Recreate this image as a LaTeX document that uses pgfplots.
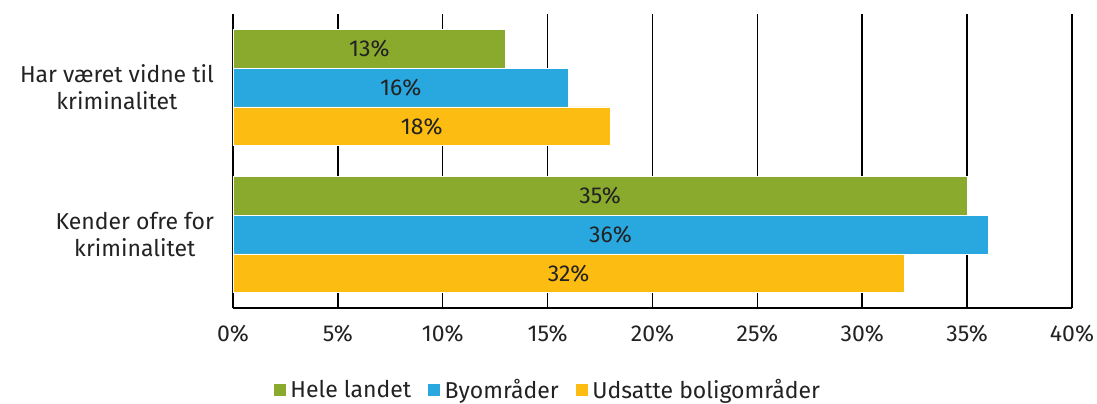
\documentclass[border=0pt]{standalone}
\usepackage{pgfplots}
\pgfplotsset{compat=1.18}
\usepackage{fontspec}
\setmainfont{Fira Sans}
\definecolor{cgreen}{HTML}{8AAA2E}
\definecolor{cblue}{HTML}{29A8E0}
\definecolor{corange}{HTML}{FDBC12}
\definecolor{ctext}{HTML}{222222}
\newcommand{\cf}{\fontsize{11.5}{13.5}\selectfont}
\begin{document}
\begin{tikzpicture}
\path[use as bounding box] (-116.5pt,-47.5pt) rectangle (432pt,154pt);
\begin{axis}[
  at={(0,0)}, anchor=south west,
  scale only axis, width=419.5pt, height=147pt,
  xbar, bar width=0.264,
  xmin=0, xmax=40, ymin=-0.5, ymax=1.5,
  xtick={0,5,...,40},
  xticklabel={\pgfmathprintnumber{\tick}\%},
  /pgf/number format/assume math mode=true,
  ytick={0,1},
  yticklabels={Kender ofre for\\kriminalitet, Har været vidne til\\kriminalitet},
  yticklabel style={align=center, font=\cf, text=ctext, xshift=-6pt},
  xticklabel style={font=\cf, text=ctext, yshift=-5pt},
  axis x line*=bottom, axis y line*=left,
  axis line style={black, line width=0.75pt},
  xmajorgrids, grid style={black, line width=0.75pt},
  major tick length=0pt,
  legend style={at={(0.376,-0.279)}, anchor=center, draw=none, legend columns=-1,
    font=\cf, text=ctext,
    /tikz/every even column/.append style={column sep=6pt}},
  legend image code/.code={\fill[#1] (0pt,-3.2pt) rectangle (6.4pt,3.2pt);},
  visualization depends on=rawx \as \rawx,
  nodes near coords={\pgfmathprintnumber{\pgfplotspointmeta}\%},
  point meta=x,
  every node near coord/.append style={anchor=center, font=\cf, text=ctext,
    shift={(axis direction cs:-\rawx/2,0)}},
]
\addplot[fill=cgreen, draw=white, line width=0.4pt, bar shift=0.264] coordinates {(35,0) (13,1)};
\addplot[fill=cblue, draw=white, line width=0.4pt, bar shift=0] coordinates {(36,0) (16,1)};
\addplot[fill=corange, draw=white, line width=0.4pt, bar shift=-0.264] coordinates {(32,0) (18,1)};
\legend{Hele landet, Byområder, Udsatte boligområder}
\end{axis}
\end{tikzpicture}
\end{document}
